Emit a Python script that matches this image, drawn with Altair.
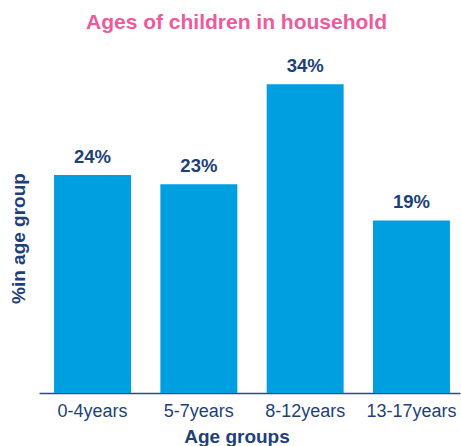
import altair as alt
import pandas as pd

categories = ["0-4years", "5-7years", "8-12years", "13-17years"]
values = [24, 23, 34, 19]
labels = ["24%", "23%", "34%", "19%"]

df = pd.DataFrame({"age": categories, "pct": values, "label": labels})

NAVY = "#1E3F7C"
BLUE = "#009FDF"
PINK = "#EF5A9C"
FONT = "Liberation Sans"

x = alt.X(
    "age:N",
    sort=categories,
    scale=alt.Scale(paddingInner=0.276, paddingOuter=0.118, align=0.6),
    axis=alt.Axis(
        title="Age groups",
        titleFont=FONT,
        titleFontSize=19,
        titleFontWeight="bold",
        titleColor=NAVY,
        titleX=197.5,
        titleY=49,
        titleBaseline="alphabetic",
        labelFont=FONT,
        labelFontSize=18,
        labelColor=NAVY,
        labelAngle=0,
        labelPadding=9,
        ticks=False,
        domainColor="#2B4A8B",
        domainWidth=1.5,
        grid=False,
    ),
)
y = alt.Y(
    "pct:Q",
    scale=alt.Scale(domain=[0, 36.67], nice=False),
    axis=alt.Axis(
        title="%in age group",
        titleFont=FONT,
        titleFontSize=19,
        titleFontWeight="bold",
        titleColor=NAVY,
        titleX=-15,
        titleY=178,
        titleBaseline="alphabetic",
        labels=False,
        ticks=False,
        domain=False,
        grid=False,
    ),
)

bars = alt.Chart(df).mark_bar(color=BLUE).encode(x=x, y=y)
text = alt.Chart(df).mark_text(
    font=FONT, fontSize=18.5, fontWeight="bold", color=NAVY,
    baseline="alphabetic", dy=-12,
).encode(x=alt.X("age:N", sort=categories), y="pct:Q", text="label:N")

chart = (
    (bars + text)
    .properties(
        width=421,
        height=333,
        autosize=alt.AutoSizeParams(type="none"),
        padding={"left": 39, "top": 60, "right": 1, "bottom": 53},
        title=alt.TitleParams(
            "Ages of children in household",
            font=FONT,
            fontSize=21,
            fontWeight="bold",
            color=PINK,
            anchor="middle",
            dx=-13,
            offset=24,
        ),
    )
    .configure_view(stroke=None)
)

chart.save("out.html", embed_options={"renderer": "svg", "actions": False})
